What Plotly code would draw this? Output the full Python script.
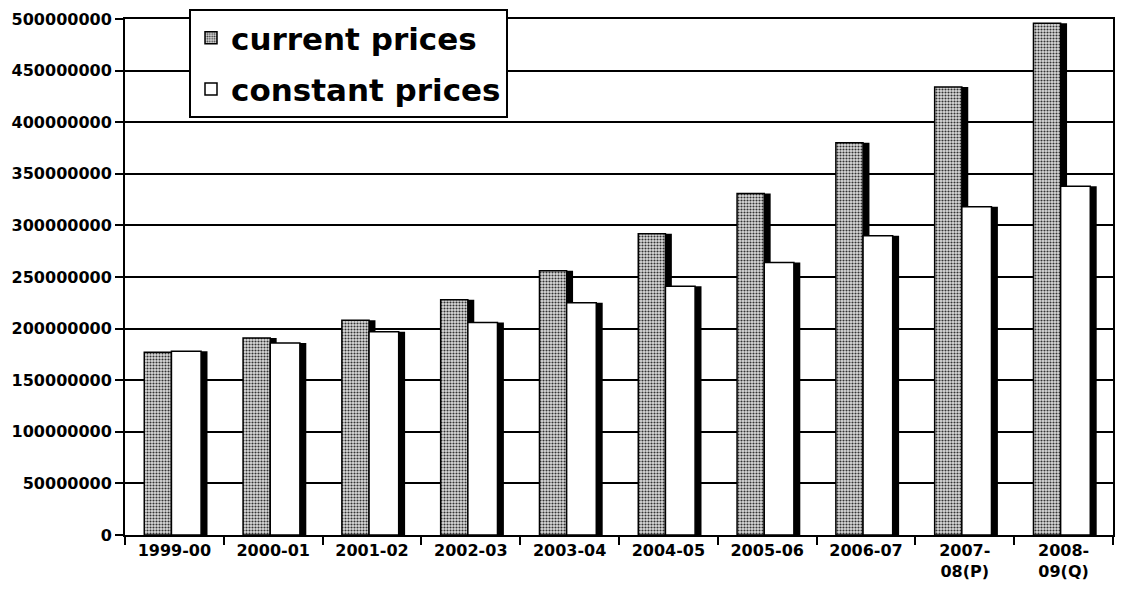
import plotly.graph_objects as go

categories = ["1999-00", "2000-01", "2001-02", "2002-03", "2003-04",
              "2004-05", "2005-06", "2006-07", "2007-<br>08(P)", "2008-<br>09(Q)"]
current_prices = [177000000, 191000000, 208000000, 228000000, 256000000,
                  292000000, 331000000, 380000000, 434000000, 496000000]
constant_prices = [178000000, 186000000, 197000000, 206000000, 225000000,
                   241000000, 264000000, 290000000, 318000000, 338000000]
y_tickvals = [0, 50000000, 100000000, 150000000, 200000000, 250000000,
              300000000, 350000000, 400000000, 450000000, 500000000]

FONT = "DejaVu Sans"
cur_off, cur_w = -0.305, 0.275
con_off, con_w = -0.03, 0.30
sh = 0.065

fig = go.Figure()
# shadows (3D look)
fig.add_trace(go.Bar(x=categories, y=current_prices, offset=cur_off + sh, width=cur_w,
                     marker=dict(color="black", line=dict(width=0)),
                     showlegend=False, hoverinfo="skip"))
fig.add_trace(go.Bar(x=categories, y=constant_prices, offset=con_off + sh, width=con_w,
                     marker=dict(color="black", line=dict(width=0)),
                     showlegend=False, hoverinfo="skip"))
# main bars
fig.add_trace(go.Bar(name="current prices", x=categories, y=current_prices,
                     offset=cur_off, width=cur_w, legendgroup="a",
                     marker=dict(color="#b0b0b0",
                                 line=dict(color="black", width=1.5),
                                 pattern=dict(shape=".", fgcolor="#333333",
                                              bgcolor="#dcdcdc", size=3,
                                              solidity=0.4, fillmode="replace"))))
fig.add_trace(go.Bar(name="constant prices", x=categories, y=constant_prices,
                     offset=con_off, width=con_w, legendgroup="b",
                     marker=dict(color="white", line=dict(color="black", width=1.5))))

# page body adds an 8px offset, so the figure is sized to fit the 1130x605 window
fig.update_layout(
    width=1122, height=597,
    margin=dict(l=117, r=17, t=1, b=70),
    barmode="overlay",
    plot_bgcolor="white", paper_bgcolor="white",
    font=dict(family=FONT, color="black"),
    legend=dict(x=(189 - 125) / 988, y=1.0, xanchor="left", yanchor="top",
                bgcolor="white", bordercolor="black", borderwidth=2,
                font=dict(family=FONT, size=31, weight="bold", color="black"),
                traceorder="grouped", tracegroupgap=8),
)
fig.update_xaxes(
    type="category", tickangle=0, automargin=False,
    showline=True, linecolor="black", linewidth=2, mirror=True,
    ticks="outside", tickson="boundaries", ticklen=8, tickwidth=1.5, tickcolor="black",
    tickfont=dict(family=FONT, size=16, weight="bold", color="black"),
    showgrid=False,
)
fig.update_yaxes(
    domain=[0, 1 - 10 / 526], automargin=False,
    range=[0, 500000000], tickvals=y_tickvals, tickformat="d",
    showline=True, linecolor="black", linewidth=2, mirror=True,
    ticks="outside", ticklen=8, tickwidth=1.5, tickcolor="black",
    tickfont=dict(family=FONT, size=16, weight="bold", color="black"),
    showgrid=True, gridcolor="black", gridwidth=2,
    zeroline=False,
)

fig.write_html("out.html")
